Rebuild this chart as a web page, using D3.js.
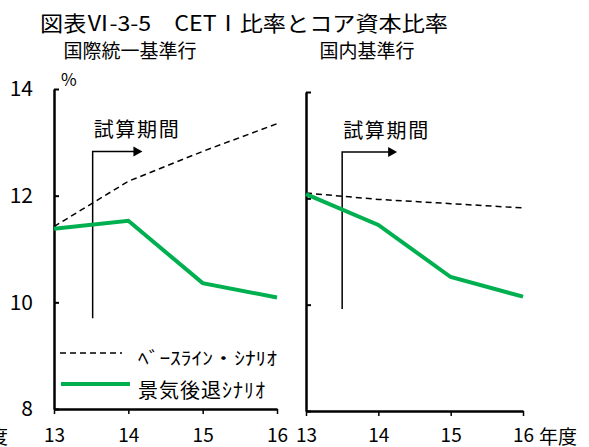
<!DOCTYPE html>
<html>
<head>
<meta charset="utf-8">
<script src="https://cdn.jsdelivr.net/npm/d3@7"></script>
<style>
  body { margin: 0; background: #fff; }
  text { font-family: "Noto Sans CJK JP", sans-serif; fill: #000; }
  .axis path, .axis line { stroke: #000; }
</style>
</head>
<body>
<div id="chart"></div>
<script>
// values
const years = [13, 14, 15, 16]
const yTicks = [8, 10, 12, 14]
const intlBaseline = [11.42, 12.27, 12.83, 13.35]
const intlRecession = [11.38, 11.53, 10.36, 10.09]
const domBaseline = [12.1, 11.98, 11.9, 11.82]
const domRecession = [12.08, 11.5, 10.52, 10.15]

const green = '#00b050'

const svg = d3.select('#chart').append('svg')
    .attr('width', 589)
    .attr('height', 447)

// title + panel names
svg.append('text')
    .attr('x', 40).attr('y', 31)
    .attr('textLength', 408).attr('lengthAdjust', 'spacingAndGlyphs')
    .style('font-size', '21px')
    .text('図表Ⅵ-3-5　CETⅠ比率とコア資本比率')

const panels = [
  { name: '国際統一基準行', nameX: 130, x0: 54, x1: 277, yTop: 89, yBot: 409,
    base: intlBaseline, rec: intlRecession, labels: true,
    arrow: { x: 13.52, from: 9.7, to: 12.83, tip: 14.19 } },
  { name: '国内基準行', nameX: 367, x0: 306, x1: 523, yTop: 92, yBot: 411,
    base: domBaseline, rec: domRecession, labels: false,
    arrow: { x: 13.5, from: 9.92, to: 12.87, tip: 14.26 } }
]

panels.forEach(p => {
  svg.append('text')
      .attr('x', p.nameX).attr('y', 58)
      .attr('text-anchor', 'middle')
      .style('font-size', '19px')
      .text(p.name)

  const x = d3.scaleLinear().domain([13, 16]).range([p.x0, p.x1])
  const y = d3.scaleLinear().domain([8, 14]).range([p.yBot, p.yTop])

  const yAxis = d3.axisLeft(y).tickValues(yTicks)
      .tickSizeInner(-5).tickSizeOuter(0).tickPadding(21)
      .tickFormat(p.labels ? d => d : '')
  const gy = svg.append('g')
      .attr('class', 'axis')
      .attr('transform', 'translate(' + p.x0 + ',0)')
      .call(yAxis)
  gy.select('.domain').attr('stroke-width', 2.5)
  gy.selectAll('line').attr('stroke-width', 2)
  gy.selectAll('text').style('font-size', '21px').attr('fill', '#000')

  // keep the year labels of both panels on one baseline
  const xAxis = d3.axisBottom(x).tickValues(years)
      .tickSizeInner(5).tickSizeOuter(0).tickPadding(15 - (p.yBot - 409))
      .tickFormat(d => d)
  const gx = svg.append('g')
      .attr('class', 'axis')
      .attr('transform', 'translate(0,' + p.yBot + ')')
      .call(xAxis)
  gx.select('.domain').attr('stroke-width', 2.5)
  gx.selectAll('line').attr('stroke-width', 1.5)
  gx.selectAll('text').style('font-size', '19px').attr('fill', '#000')

  const line = d3.line().x((d, i) => x(years[i])).y(d => y(d))

  // 試算期間 marker
  const a = p.arrow
  svg.append('path')
      .attr('d', d3.line()([[x(a.x), y(a.from)], [x(a.x), y(a.to)], [x(a.tip) - 8, y(a.to)]]))
      .attr('fill', 'none').attr('stroke', '#000').attr('stroke-width', 1.5)
  svg.append('path')
      .attr('d', d3.line()([[x(a.tip) - 9, y(a.to) - 5], [x(a.tip), y(a.to)], [x(a.tip) - 9, y(a.to) + 5]]) + 'Z')
      .attr('fill', '#000')
  svg.append('text')
      .attr('x', x(a.x) + 1).attr('y', y(a.to) - 14)
      .attr('textLength', 85).attr('lengthAdjust', 'spacing')
      .style('font-size', '20px')
      .text('試算期間')

  svg.append('path')
      .attr('d', line(p.base))
      .attr('fill', 'none').attr('stroke', '#000')
      .attr('stroke-width', 1.5).attr('stroke-dasharray', '6,4')

  svg.append('path')
      .attr('d', line(p.rec))
      .attr('fill', 'none').attr('stroke', green)
      .attr('stroke-width', 4)
})

svg.append('text')
    .attr('x', 61).attr('y', 86)
    .style('font-size', '17px')
    .text('%')

// legend
svg.append('line')
    .attr('x1', 60).attr('x2', 122).attr('y1', 353).attr('y2', 353)
    .attr('stroke', '#000').attr('stroke-width', 1.5).attr('stroke-dasharray', '6,4')
svg.append('text')
    .attr('x', 138).attr('y', 365)
    .attr('textLength', 139).attr('lengthAdjust', 'spacingAndGlyphs')
    .style('font-size', '18px')
    .text('ﾍﾞｰｽﾗｲﾝ・ｼﾅﾘｵ')
svg.append('line')
    .attr('x1', 61).attr('x2', 130).attr('y1', 384).attr('y2', 384)
    .attr('stroke', green).attr('stroke-width', 4)
svg.append('text')
    .attr('x', 138).attr('y', 398)
    .attr('textLength', 127).attr('lengthAdjust', 'spacing')
    .style('font-size', '20px')
    .text('景気後退ｼﾅﾘｵ')

// 年度 labels (left one is cut off at the edge)
svg.append('text')
    .attr('x', 8).attr('y', 444)
    .attr('text-anchor', 'end')
    .style('font-size', '19px')
    .text('年度')
svg.append('text')
    .attr('x', 539).attr('y', 444)
    .style('font-size', '19px')
    .text('年度')
</script>
</body>
</html>
